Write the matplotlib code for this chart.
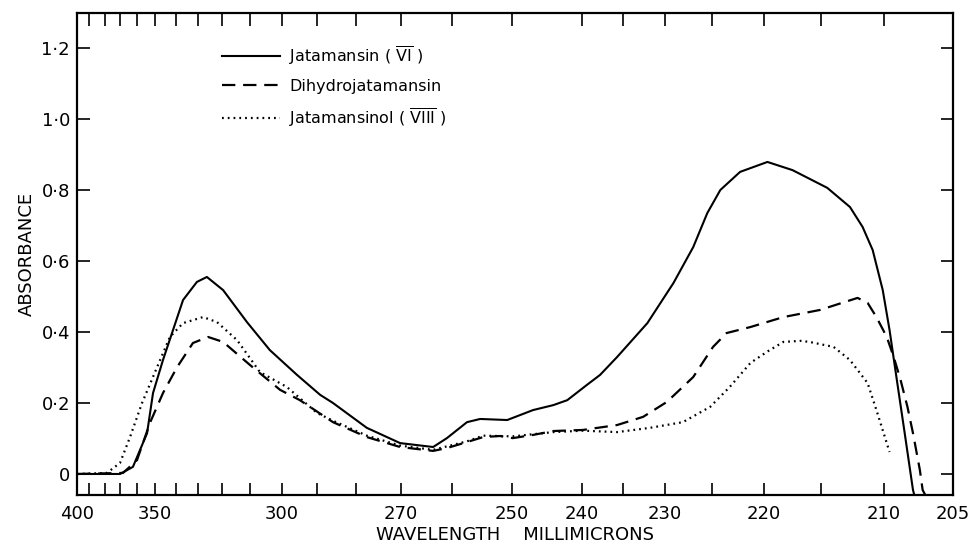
import numpy as np
import matplotlib
matplotlib.use('Agg')
import matplotlib.pyplot as plt

# wavelength (millimicrons) and absorbance
jat_wl = [400, 370, 362.4, 354.4, 351.1, 346.2, 341.9, 336.8, 330.5, 326.3, 319.6, 311.1,
          303.8, 295.7, 289.2, 285.9, 277.6, 270.2, 263.7, 261.0, 257.5, 255.3, 250.8, 247.0,
          244.1, 242.1, 239.4, 237.8, 235.7, 232.1, 229.1, 227.0, 225.5, 224.2, 222.3, 219.7,
          217.5, 214.5, 212.7, 211.7, 210.9, 210.1, 209.6, 209.1, 208.5, 207.9, 207.8]
jat_abs = [0.0, 0.0, 0.020, 0.115, 0.228, 0.321, 0.397, 0.490, 0.541, 0.555, 0.518, 0.428,
           0.349, 0.279, 0.223, 0.200, 0.130, 0.087, 0.076, 0.101, 0.146, 0.155, 0.152, 0.180,
           0.194, 0.208, 0.251, 0.279, 0.330, 0.425, 0.538, 0.639, 0.735, 0.800, 0.851, 0.879,
           0.856, 0.806, 0.752, 0.696, 0.631, 0.518, 0.406, 0.273, 0.115, -0.045, -0.06]

dihyd_wl = [400, 368.2, 360, 352.8, 346.2, 339.5, 332.3, 325.8, 319.6, 310, 300.6, 294.9,
            285.9, 277.6, 270.2, 263.7, 261.0, 257.5, 254.8, 252.0, 249.9, 247.0, 244.1, 239.9,
            235.7, 232.6, 229.8, 227.0, 224.9, 223.6, 221.3, 218.3, 215.1, 212.1, 211.3, 210.6,
            209.8, 209.3, 208.8, 208.3, 207.9, 207.4, 207.2, 207.0]
dihyd_abs = [0.0, 0.003, 0.039, 0.144, 0.228, 0.301, 0.369, 0.386, 0.372, 0.307, 0.237, 0.208,
             0.146, 0.104, 0.076, 0.065, 0.073, 0.090, 0.104, 0.107, 0.101, 0.110, 0.121, 0.124,
             0.138, 0.161, 0.203, 0.273, 0.358, 0.397, 0.414, 0.442, 0.462, 0.496, 0.482, 0.442,
             0.386, 0.330, 0.265, 0.189, 0.115, 0.011, -0.045, -0.06]

jatol_wl = [400, 378.7, 370, 364.1, 357.2, 349.0, 342.9, 336.8, 327.9, 322.1, 314.6, 306.9,
            298.6, 290, 285.9, 277.6, 270.2, 263.7, 257.5, 254.8, 249.9, 244.1, 239.9, 235.7,
            231.8, 228.1, 225.2, 223.3, 221.3, 219.7, 218.3, 216.8, 216.0, 214.0, 212.7, 211.3,
            210.6, 209.8, 209.6]
jatol_abs = [0.0, 0.003, 0.031, 0.104, 0.200, 0.301, 0.386, 0.425, 0.442, 0.428, 0.377, 0.287,
             0.245, 0.172, 0.150, 0.108, 0.080, 0.068, 0.092, 0.108, 0.106, 0.118, 0.122, 0.118,
             0.130, 0.146, 0.189, 0.245, 0.313, 0.345, 0.372, 0.375, 0.372, 0.358, 0.321, 0.256,
             0.180, 0.087, 0.062]

# chart-paper wavelength scale (tick marks and where they sit across the paper)
paper_wl = [400, 390, 380, 370, 360, 350, 340, 330, 320, 310, 300, 290, 280, 270, 260,
            250, 240, 235, 230, 225, 220, 215, 210, 205]
paper_pos = [77, 89, 105, 120, 137, 155, 176, 198, 222, 250, 282, 317, 356, 401, 452,
             512, 582, 623, 665, 712, 764, 821, 884, 953]
labelled = [400, 350, 300, 270, 250, 240, 230, 220, 210, 205]

y_ticks = [0, 0.2, 0.4, 0.6, 0.8, 1.0, 1.2]
y_labels = ['0', '0·2', '0·4', '0·6', '0·8', '1·0', '1·2']

# increasing in wavelength: -position on the paper
wl_ext = np.array([0] + paper_wl[::-1] + [2000], dtype=float)
pos_ext = -np.array([953 + 205 * 13.8] + paper_pos[::-1] + [77 - 1600 * 1.2], dtype=float)


def fwd(w):
    return np.interp(np.asarray(w, dtype=float), wl_ext, pos_ext)


def inv(p):
    return np.interp(np.asarray(p, dtype=float), pos_ext, wl_ext)


plt.rcParams['font.family'] = 'DejaVu Sans'
fig = plt.figure(figsize=(9.75, 5.46), dpi=100)
ax = fig.add_axes([77 / 975, 51 / 546, 876 / 975, 482 / 546])
ax.set_xscale('function', functions=(fwd, inv))

ax.plot(jat_wl, jat_abs, color='black', lw=1.5, linestyle='-', label=r'Jatamansin ( $\overline{\mathrm{VI}}$ )')
ax.plot(dihyd_wl, dihyd_abs, color='black', lw=1.6, linestyle=(0, (6, 3.5)), label='Dihydrojatamansin')
ax.plot(jatol_wl, jatol_abs, color='black', lw=1.6, linestyle=(0, (0.8, 1.8)),
        label=r'Jatamansinol ( $\overline{\mathrm{VIII}}$ )')

ax.set_xlim(400, 205)
ax.set_ylim(-0.0592, 1.2986)

ax.set_xticks(paper_wl)
ax.set_xticklabels([str(w) if w in labelled else '' for w in paper_wl])
ax.set_yticks(y_ticks)
ax.set_yticklabels(y_labels)
ax.minorticks_off()
ax.tick_params(axis='both', direction='in', length=9, width=1.2, labelsize=13,
               top=True, right=True, labelright=False, labeltop=False)
ax.tick_params(axis='x', pad=7)
ax.tick_params(axis='y', pad=5)
for s in ax.spines.values():
    s.set_linewidth(1.6)

ax.set_xlabel('WAVELENGTH    MILLIMICRONS', fontsize=13, labelpad=2)
ax.set_ylabel('ABSORBANCE', fontsize=13, labelpad=4)

ax.legend(loc='upper left', bbox_to_anchor=((222 - 77) / 876, (495 - 44) / 482), frameon=False,
          fontsize=11.5, handlelength=3.6, handletextpad=0.6, labelspacing=0.75,
          borderpad=0, borderaxespad=0)

fig.savefig('out.png', dpi=100)
